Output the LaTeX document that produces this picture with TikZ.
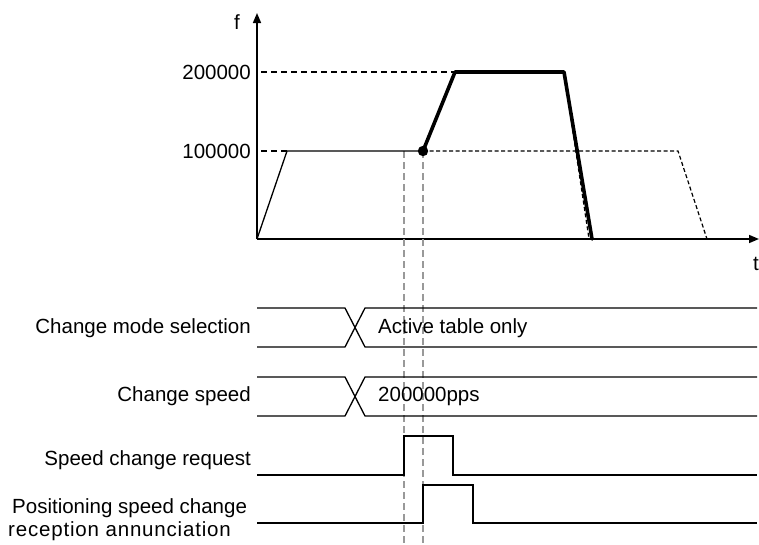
\documentclass[tikz,border=0pt]{standalone}
\usepackage{fontspec}
\setmainfont{Liberation Sans}
\usetikzlibrary{arrows.meta}
\begin{document}
\begin{tikzpicture}[x=1pt,y=-1pt,
  lbl/.style={font=\fontsize{20.5}{23}\selectfont, inner sep=0pt},
  axisline/.style={line width=1.6pt,-{Triangle[length=10pt,width=8pt]}},
  thinline/.style={line width=1.3pt},
  thickline/.style={line width=3.6pt, line cap=round, line join=round},
  refdash/.style={line width=1.2pt, dash pattern=on 6pt off 4pt},
  curvedash/.style={line width=1.2pt, dash pattern=on 4pt off 2.5pt},
  guide/.style={line width=1.2pt, gray!80, dash pattern=on 7pt off 4pt},
  sig/.style={line width=1.3pt}]
\useasboundingbox (0,0) rectangle (759,544);
% axes
\coordinate (O) at (257,239);
\coordinate (ytop) at (257,13);
\coordinate (xend) at (759,239);
\draw[axisline] (O) -- (ytop);
\draw[axisline] (O) -- (xend);
\node[lbl] (f) at (237,22) {f};
\node[lbl] (t) at (756,264) {t};
\node[lbl, anchor=east] (l2) at (251,72) {200000};
\node[lbl, anchor=east] (l1) at (251,151) {100000};
% key points
\coordinate (a1) at (287,151);
\coordinate (chg) at (423,151);
\coordinate (b1) at (455,72);
\coordinate (b2) at (564,72);
\coordinate (b3) at (592,239);
\coordinate (c1) at (678,151);
\coordinate (c2) at (707,239);
% guide lines
\coordinate (g1t) at (404,151);
\coordinate (g1b) at (404,544);
\coordinate (g2t) at (423,151);
\coordinate (g2b) at (423,544);
\draw[guide] (g1t) -- (g1b);
\draw[guide] (g2t) -- (g2b);
% reference dashes
\draw[refdash] (l2.east) ++(10,0) -- (b1);
\draw[refdash] (l1.east) ++(10,0) -- (a1);
% original curve
\draw[thinline, line join=round] (O) -- (a1) -- (chg);
\draw[curvedash] (chg) -- (c1) -- (c2);
\draw[curvedash] (b2) -- (589,239);
% changed curve
\draw[thickline] (chg) -- (b1) -- (b2) -- (b3);
\fill (chg) circle (5.2pt);
% timing signals
\node[lbl, anchor=east] (s1) at (251,328) {Change mode selection};
\draw[sig] (257,308) -- (345,308) -- (365,347) -- (757,347);
\draw[sig] (257,347) -- (345,347) -- (365,308) -- (757,308);
\node[lbl, anchor=west] (v1) at (378,328) {Active table only};
\node[lbl, anchor=east] (s2) at (251,396) {Change speed};
\draw[sig] (257,377) -- (345,377) -- (365,416) -- (757,416);
\draw[sig] (257,416) -- (345,416) -- (365,377) -- (757,377);
\node[lbl, anchor=west] (v2) at (378,396) {200000pps};
\node[lbl, anchor=east] (s3) at (251,460) {Speed change request};
\draw[sig] (257,475) -- (404,475) -- (404,436) -- (453,436) -- (453,475) -- (757,475);
\node[lbl, anchor=west] (s4a) at (12,508) {Positioning speed change};
\node[lbl, anchor=west] (s4b) at (8,531) {\addfontfeature{LetterSpace=4}reception annunciation};
\draw[sig] (257,523) -- (423,523) -- (423,485) -- (473,485) -- (473,523) -- (757,523);
\end{tikzpicture}
\end{document}
